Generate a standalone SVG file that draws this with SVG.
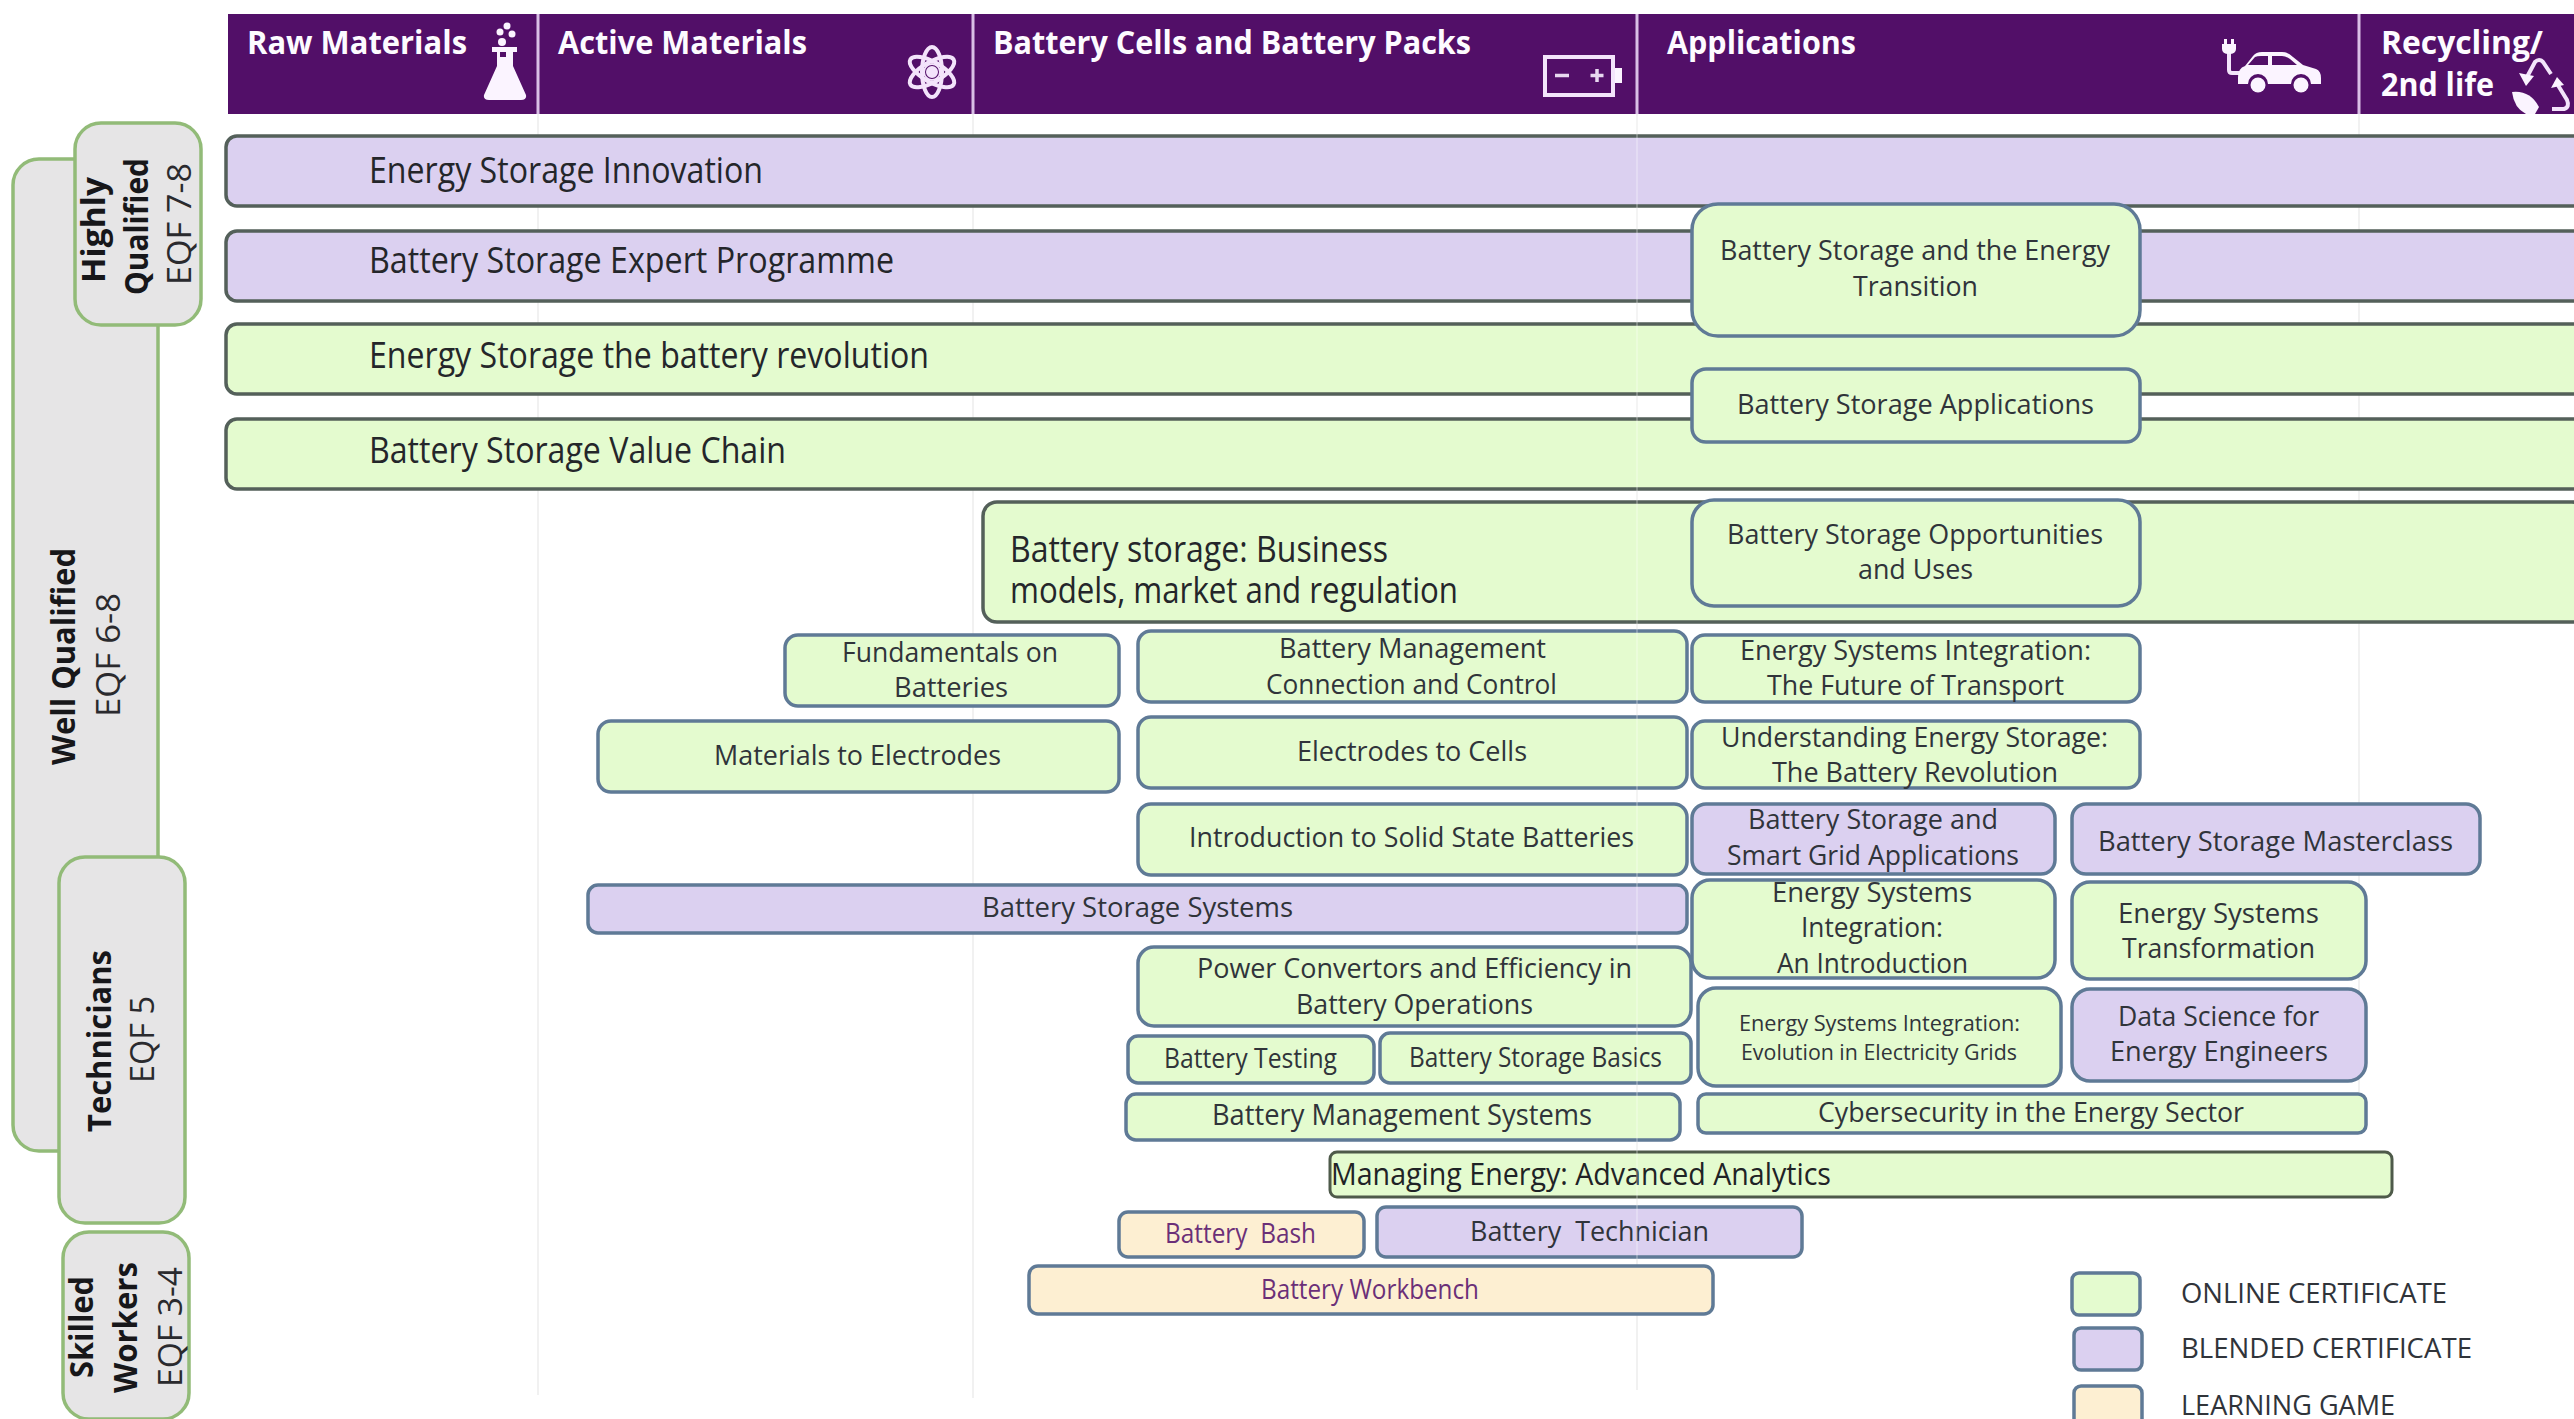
<svg xmlns="http://www.w3.org/2000/svg" width="2574" height="1419" viewBox="0 0 2574 1419">
<style>
text{font-family:"Open Sans","Noto Sans","Liberation Sans",sans-serif;fill:#30343a;font-size:28px}
.hd{fill:#fdfbff;font-weight:700;font-size:32px}
.bg{font-size:36px;fill:#24262a}
.s{font-size:22px}
.g{fill:#e4fbcf}.p{fill:#dbd0f0}.o{fill:#fdefd2}
.bar{stroke:#54605a;stroke-width:3.5}
.box{stroke:#5f7a96;stroke-width:3.5}
.game{fill:#6b2f78}
.side{fill:#e6e5e6;stroke:#92bb78;stroke-width:3.5}
.sb{font-weight:700;font-size:33px;fill:#17171a}
.sr{font-size:33px;fill:#2a2a2e}
.ic{fill:#fbf4ff}
.il{fill:none;stroke:#f3e4fb;stroke-width:4}
</style>
<rect width="2574" height="1419" fill="#fff"/>

<g id="header">
<rect x="228" y="14" width="2346" height="100" fill="#520f68"/>
<g stroke="#d9bfe6" stroke-width="3"><path d="M538 14V114M973 14V114M1637 14V114M2359 14V114"/></g>
<text class="hd" x="247" y="54" textLength="220" lengthAdjust="spacingAndGlyphs">Raw Materials</text>
<text class="hd" x="558" y="54" textLength="249" lengthAdjust="spacingAndGlyphs">Active Materials</text>
<text class="hd" x="993" y="54" textLength="478" lengthAdjust="spacingAndGlyphs">Battery Cells and Battery Packs</text>
<text class="hd" x="1667" y="54" textLength="189" lengthAdjust="spacingAndGlyphs">Applications</text>
<text class="hd" x="2381" y="54" textLength="162" lengthAdjust="spacingAndGlyphs">Recycling/</text>
<text class="hd" x="2381" y="96" textLength="113" lengthAdjust="spacingAndGlyphs">2nd life</text>
<g id="icon-flask" class="ic">
<circle cx="507" cy="26" r="3.5"/><circle cx="500" cy="32" r="3.5"/><circle cx="512" cy="34" r="3.5"/><circle cx="502" cy="42" r="4"/>
<path d="M492 47H517V52H513V66L526 95Q527 100 521 100H489Q483 100 484 95L497 66V52H492Z"/>
<rect x="500" y="52" width="6" height="5" fill="#520f68"/>
</g>
<g id="icon-atom" class="il" stroke-width="3">
<circle cx="932" cy="72" r="4" fill="#f3e4fb"/><circle cx="932" cy="72" r="8" stroke-width="2"/>
<ellipse cx="932" cy="72" rx="10" ry="25"/><ellipse cx="932" cy="72" rx="10" ry="25" transform="rotate(60 932 72)"/><ellipse cx="932" cy="72" rx="10" ry="25" transform="rotate(-60 932 72)"/>
</g>
<g id="icon-battery">
<rect x="1545" y="57" width="68" height="38" class="il"/>
<rect x="1615" y="68" width="7" height="15" class="ic"/>
<path d="M1555 75.500H1569M1597 69V82M1590.500 75.500H1603.500" stroke="#e8d8f0" stroke-width="3.500" fill="none"/>
</g>
<g id="icon-car">
<path d="M2229 52V70Q2229 73 2232 73H2242" class="il"/>
<path d="M2224 39V44H2222V49Q2222 54 2229 54Q2236 54 2236 49V44H2234V39H2231V44H2227V39Z" class="ic"/>
<path d="M2238 78Q2238 68 2245 66L2253 56Q2256 52 2262 52H2282Q2288 52 2293 57L2303 65L2316 69Q2321 71 2321 78V84H2311A10 10 0 0 0 2291 84H2268A10 10 0 0 0 2248 84H2238Z" class="ic"/>
<path d="M2248 65L2255 57Q2257 56 2261 56H2268V65ZM2272 56H2282Q2286 56 2290 59L2297 65H2272Z" fill="#520f68"/>
<circle cx="2258" cy="85" r="7.500" class="ic"/><circle cx="2301" cy="85" r="7.500" class="ic"/>
</g>
<g id="icon-recycle">
<path d="M2527 77L2535 62Q2539 58 2543 62L2551 74" class="il"/>
<path d="M2519 73L2534 76L2526 86Z" class="ic"/>
<path d="M2556 82L2567 100Q2570 107 2564 109H2552" class="il"/>
<path d="M2557 77L2564 85L2551 88Z" class="ic"/>
<path d="M2512 92Q2530 90 2539 107L2535 114H2526Q2514 108 2512 92Z" class="ic"/>
</g>
</g>

<g id="gridlines" stroke="#f1f1f1" stroke-width="2" fill="none">
<path d="M538 114V1395M973 114V1398M1637 114V1390M2359 114V1100"/>
</g>

<g id="levels">
<g id="level-well"><rect class="side" x="13" y="159" width="145" height="992" rx="26"/>
<text class="sb" transform="translate(75 765) rotate(-90)" textLength="217" lengthAdjust="spacingAndGlyphs">Well Qualified</text>
<text class="sr" transform="translate(120 717) rotate(-90)" textLength="124" lengthAdjust="spacingAndGlyphs">EQF 6-8</text></g>
<g id="level-highly"><rect class="side" x="75" y="123" width="126" height="202" rx="26"/>
<text class="sb" transform="translate(105 283) rotate(-90)" textLength="106" lengthAdjust="spacingAndGlyphs">Highly</text>
<text class="sb" transform="translate(148 295) rotate(-90)" textLength="137" lengthAdjust="spacingAndGlyphs">Qualified</text>
<text class="sr" transform="translate(191 285) rotate(-90)" textLength="122" lengthAdjust="spacingAndGlyphs">EQF 7-8</text></g>
<g id="level-technicians"><rect class="side" x="59" y="857" width="126" height="366" rx="26"/>
<text class="sb" transform="translate(111 1132) rotate(-90)" textLength="182" lengthAdjust="spacingAndGlyphs">Technicians</text>
<text class="sr" transform="translate(154 1083) rotate(-90)" textLength="87" lengthAdjust="spacingAndGlyphs">EQF 5</text></g>
<g id="level-skilled"><rect class="side" x="63" y="1232" width="126" height="187" rx="26"/>
<text class="sb" transform="translate(93 1378) rotate(-90)" textLength="102" lengthAdjust="spacingAndGlyphs">Skilled</text>
<text class="sb" transform="translate(137 1393) rotate(-90)" textLength="131" lengthAdjust="spacingAndGlyphs">Workers</text>
<text class="sr" transform="translate(182 1387) rotate(-90)" textLength="120" lengthAdjust="spacingAndGlyphs">EQF 3-4</text></g>
</g>

<g id="n-innovation"><rect class="p bar" x="226" y="136" width="2360" height="70" rx="11"/><text class="bg" x="369" y="183" textLength="394" lengthAdjust="spacingAndGlyphs">Energy Storage Innovation</text></g>
<g id="n-expert"><rect class="p bar" x="226" y="231" width="2360" height="70" rx="11"/><text class="bg" x="369" y="273" textLength="525" lengthAdjust="spacingAndGlyphs">Battery Storage Expert Programme</text></g>
<g id="n-revolution"><rect class="g bar" x="226" y="324" width="2360" height="70" rx="11"/><text class="bg" x="369" y="368" textLength="560" lengthAdjust="spacingAndGlyphs">Energy Storage the battery revolution</text></g>
<g id="n-valuechain"><rect class="g bar" x="226" y="419" width="2360" height="70" rx="11"/><text class="bg" x="369" y="463" textLength="417" lengthAdjust="spacingAndGlyphs">Battery Storage Value Chain</text></g>
<g id="n-business"><rect class="g bar" x="983" y="502" width="1603" height="120" rx="14"/><text class="bg" x="1010" y="562" textLength="378" lengthAdjust="spacingAndGlyphs">Battery storage: Business</text><text class="bg" x="1010" y="603" textLength="448" lengthAdjust="spacingAndGlyphs">models, market and regulation</text></g>

<g id="n-transition"><rect class="g box" x="1692" y="204" width="448" height="132" rx="26"/><text x="1720" y="260" textLength="390" lengthAdjust="spacingAndGlyphs">Battery Storage and the Energy</text><text x="1853" y="296" textLength="125" lengthAdjust="spacingAndGlyphs">Transition</text></g>
<g id="n-applications"><rect class="g box" x="1692" y="369" width="448" height="73" rx="14"/><text x="1737" y="414" textLength="357" lengthAdjust="spacingAndGlyphs">Battery Storage Applications</text></g>
<g id="n-opportunities"><rect class="g box" x="1692" y="500" width="448" height="106" rx="22"/><text x="1727" y="544" textLength="376" lengthAdjust="spacingAndGlyphs">Battery Storage Opportunities</text><text x="1858" y="579" textLength="115" lengthAdjust="spacingAndGlyphs">and Uses</text></g>
<g id="n-fundamentals"><rect class="g box" x="785" y="635" width="334" height="71" rx="13"/><text x="842" y="662" textLength="216" lengthAdjust="spacingAndGlyphs">Fundamentals on</text><text x="894" y="697" textLength="114" lengthAdjust="spacingAndGlyphs">Batteries</text></g>
<g id="n-bmcc"><rect class="g box" x="1138" y="631" width="549" height="71" rx="13"/><text x="1279" y="658" textLength="267" lengthAdjust="spacingAndGlyphs">Battery Management</text><text x="1266" y="694" textLength="291" lengthAdjust="spacingAndGlyphs">Connection and Control</text></g>
<g id="n-future"><rect class="g box" x="1692" y="635" width="448" height="67" rx="13"/><text x="1740" y="660" textLength="351" lengthAdjust="spacingAndGlyphs">Energy Systems Integration:</text><text x="1767" y="695" textLength="297" lengthAdjust="spacingAndGlyphs">The Future of Transport</text></g>
<g id="n-materials"><rect class="g box" x="598" y="721" width="521" height="71" rx="13"/><text x="714" y="765" textLength="287" lengthAdjust="spacingAndGlyphs">Materials to Electrodes</text></g>
<g id="n-electrodes"><rect class="g box" x="1138" y="717" width="549" height="71" rx="13"/><text x="1297" y="761" textLength="230" lengthAdjust="spacingAndGlyphs">Electrodes to Cells</text></g>
<g id="n-understanding"><rect class="g box" x="1692" y="721" width="448" height="67" rx="13"/><text x="1721" y="747" textLength="387" lengthAdjust="spacingAndGlyphs">Understanding Energy Storage:</text><text x="1772" y="782" textLength="286" lengthAdjust="spacingAndGlyphs">The Battery Revolution</text></g>
<g id="n-solidstate"><rect class="g box" x="1138" y="804" width="549" height="71" rx="13"/><text x="1189" y="847" textLength="445" lengthAdjust="spacingAndGlyphs">Introduction to Solid State Batteries</text></g>
<g id="n-smartgrid"><rect class="p box" x="1692" y="804" width="363" height="70" rx="14"/><text x="1748" y="829" textLength="250" lengthAdjust="spacingAndGlyphs">Battery Storage and</text><text x="1727" y="865" textLength="292" lengthAdjust="spacingAndGlyphs">Smart Grid Applications</text></g>
<g id="n-masterclass"><rect class="p box" x="2072" y="804" width="408" height="70" rx="14"/><text x="2098" y="851" textLength="355" lengthAdjust="spacingAndGlyphs">Battery Storage Masterclass</text></g>
<g id="n-systems"><rect class="p box" x="588" y="885" width="1099" height="48" rx="10"/><text x="982" y="917" textLength="311" lengthAdjust="spacingAndGlyphs">Battery Storage Systems</text></g>
<g id="n-esintro"><rect class="g box" x="1692" y="880" width="363" height="98" rx="18"/><text x="1772" y="902" textLength="200" lengthAdjust="spacingAndGlyphs">Energy Systems</text><text x="1801" y="937" textLength="142" lengthAdjust="spacingAndGlyphs">Integration:</text><text x="1777" y="973" textLength="191" lengthAdjust="spacingAndGlyphs">An Introduction</text></g>
<g id="n-transformation"><rect class="g box" x="2072" y="882" width="294" height="97" rx="18"/><text x="2118" y="923" textLength="201" lengthAdjust="spacingAndGlyphs">Energy Systems</text><text x="2122" y="958" textLength="193" lengthAdjust="spacingAndGlyphs">Transformation</text></g>
<g id="n-power"><rect class="g box" x="1138" y="947" width="553" height="79" rx="16"/><text x="1197" y="978" textLength="435" lengthAdjust="spacingAndGlyphs">Power Convertors and Efficiency in</text><text x="1296" y="1014" textLength="237" lengthAdjust="spacingAndGlyphs">Battery Operations</text></g>
<g id="n-evolution"><rect class="g box" x="1698" y="988" width="363" height="98" rx="18"/><text class="s" x="1739" y="1031" textLength="281" lengthAdjust="spacingAndGlyphs">Energy Systems Integration:</text><text class="s" x="1741" y="1060" textLength="276" lengthAdjust="spacingAndGlyphs">Evolution in Electricity Grids</text></g>
<g id="n-datascience"><rect class="p box" x="2072" y="989" width="294" height="92" rx="18"/><text x="2118" y="1026" textLength="201" lengthAdjust="spacingAndGlyphs">Data Science for</text><text x="2110" y="1061" textLength="218" lengthAdjust="spacingAndGlyphs">Energy Engineers</text></g>
<g id="n-testing"><rect class="g box" x="1128" y="1036" width="246" height="47" rx="10"/><text x="1164" y="1068" textLength="173" lengthAdjust="spacingAndGlyphs">Battery Testing</text></g>
<g id="n-basics"><rect class="g box" x="1380" y="1033" width="311" height="50" rx="10"/><text x="1409" y="1067" textLength="253" lengthAdjust="spacingAndGlyphs">Battery Storage Basics</text></g>
<g id="n-bms"><rect class="g box" x="1126" y="1094" width="554" height="46" rx="10"/><text x="1212" y="1125" style="font-size:30px" textLength="380" lengthAdjust="spacingAndGlyphs">Battery Management Systems</text></g>
<g id="n-cyber"><rect class="g box" x="1698" y="1094" width="668" height="39" rx="8"/><text x="1818" y="1122" textLength="426" lengthAdjust="spacingAndGlyphs">Cybersecurity in the Energy Sector</text></g>
<g id="n-analytics"><rect class="g" x="1330" y="1152" width="1062" height="45" rx="7" stroke="#4e5a4a" stroke-width="3"/><text x="1331" y="1185" style="font-size:31px;fill:#1f2326" textLength="500" lengthAdjust="spacingAndGlyphs">Managing Energy: Advanced Analytics</text></g>
<g id="n-bash"><rect class="o box" x="1119" y="1212" width="245" height="45" rx="9"/><text class="game" xml:space="preserve" x="1165" y="1243" textLength="151" lengthAdjust="spacingAndGlyphs">Battery  Bash</text></g>
<g id="n-technician"><rect class="p box" x="1377" y="1207" width="425" height="50" rx="9"/><text xml:space="preserve" x="1470" y="1241" textLength="239" lengthAdjust="spacingAndGlyphs">Battery  Technician</text></g>
<g id="n-workbench"><rect class="o box" x="1029" y="1266" width="684" height="48" rx="9"/><text class="game" x="1261" y="1299" textLength="218" lengthAdjust="spacingAndGlyphs">Battery Workbench</text></g>

<path id="grid-overlay" d="M1637 116V1260" stroke="#fff" stroke-opacity=".25" stroke-width="2" fill="none"/>

<g id="legend">
<rect class="g box" x="2072" y="1273" width="68" height="42" rx="7"/><text x="2181" y="1303" textLength="266" lengthAdjust="spacingAndGlyphs">ONLINE CERTIFICATE</text>
<rect class="p box" x="2074" y="1328" width="68" height="42" rx="7"/><text x="2181" y="1358" textLength="291" lengthAdjust="spacingAndGlyphs">BLENDED CERTIFICATE</text>
<rect class="o box" x="2074" y="1386" width="68" height="42" rx="7"/><text x="2181" y="1415" textLength="214" lengthAdjust="spacingAndGlyphs">LEARNING GAME</text>
</g>
</svg>
